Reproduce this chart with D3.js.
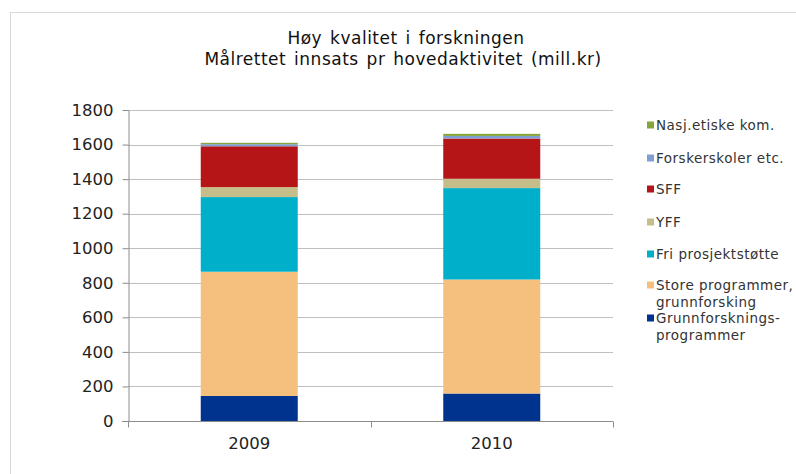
<!DOCTYPE html>
<html><head><meta charset="utf-8">
<script src="https://cdn.jsdelivr.net/npm/d3@7"></script>
<style>body{margin:0;background:#fff}svg{display:block}</style>
</head><body>
<svg id="c" width="796" height="474"></svg>
<script>
const categories = ["2009", "2010"];
const seriesNames = ["Grunnforsknings-programmer", "Store programmer, grunnforsking", "Fri prosjektstøtte", "YFF", "SFF", "Forskerskoler etc.", "Nasj.etiske kom."];
const grunnforskning = [145, 159];
const storeProgrammer = [719, 660];
const friProsjekt = [432, 529];
const yff = [58, 54];
const sff = [236, 233];
const forskerskoler = [12, 15];
const nasjEtiske = [8, 12];
const yTicks = [0, 200, 400, 600, 800, 1000, 1200, 1400, 1600, 1800];
const colors = ["#00338d", "#f5c07e", "#00b0ca", "#c5bd8a", "#b51516", "#7f9fd6", "#86a43a"];
const legendLabels = [["Nasj.etiske kom."], ["Forskerskoler etc."], ["SFF"], ["YFF"], ["Fri prosjektstøtte"], ["Store programmer,", "grunnforsking"], ["Grunnforsknings-", "programmer"]];

const values = [grunnforskning, storeProgrammer, friProsjekt, yff, sff, forskerskoler, nasjEtiske];
const rows = categories.map((c, i) => {
  const r = {cat: c};
  seriesNames.forEach((s, j) => r[s] = values[j][i]);
  return r;
});
const stack = d3.stack().keys(seriesNames)(rows);

const svg = d3.select("#c");
svg.append("rect").attr("x", 10.5).attr("y", 12.5).attr("width", 800).attr("height", 500)
  .attr("fill", "#fff").attr("stroke", "#d9d9d9");

const pLeft = 128, pRight = 613, pTop = 110, pBottom = 421;
const x = d3.scaleBand().domain(categories).range([pLeft, pRight]).paddingInner(0.6).paddingOuter(0.3);
const y = d3.scaleLinear().domain([0, 1800]).range([pBottom, pTop]);

// gridlines
svg.append("g").selectAll("line").data(yTicks.filter(t => t > 0)).join("line")
  .attr("x1", pLeft).attr("x2", pRight)
  .attr("y1", d => Math.round(y(d)) + 0.5).attr("y2", d => Math.round(y(d)) + 0.5)
  .attr("stroke", "#bfbfbf").attr("stroke-width", 1);

// bars
svg.append("g").selectAll("g").data(stack).join("g")
  .attr("fill", (d, i) => colors[i])
  .selectAll("rect").data(d => d).join("rect")
  .attr("x", d => x(d.data.cat))
  .attr("width", x.bandwidth())
  .attr("y", d => y(d[1]))
  .attr("height", d => y(d[0]) - y(d[1]));

// y axis
const yAxis = svg.append("g").attr("transform", `translate(${pLeft + 0.5},0)`)
  .call(d3.axisLeft(y).tickValues(yTicks).tickFormat(d3.format("d")).tickSize(6).tickPadding(9).tickSizeOuter(0));
yAxis.select(".domain").attr("stroke", "#8c8c8c");
yAxis.selectAll(".tick line").attr("stroke", "#8c8c8c");
yAxis.selectAll("text").attr("font-family", "DejaVu Sans").attr("font-size", 16.5).attr("fill", "#222");

// x axis
const xg = svg.append("g").attr("transform", `translate(0,${pBottom + 0.5})`);
xg.append("line").attr("x1", pLeft - 6).attr("x2", pRight).attr("stroke", "#8c8c8c");
const xTickPos = [pLeft, (pLeft + pRight) / 2, pRight];
xg.selectAll(".xt").data(xTickPos).join("line").attr("class", "xt")
  .attr("x1", d => Math.round(d) + 0.5).attr("x2", d => Math.round(d) + 0.5)
  .attr("y1", 0).attr("y2", 6).attr("stroke", "#8c8c8c");
xg.selectAll("text").data(categories).join("text")
  .attr("x", d => x(d) + x.bandwidth() / 2).attr("y", 27)
  .attr("text-anchor", "middle").attr("font-family", "DejaVu Sans").attr("font-size", 16.5)
  .attr("fill", "#222").text(d => d);

// title
const title = svg.append("text").attr("text-anchor", "middle").attr("font-family", "DejaVu Sans")
  .attr("font-size", 17).attr("letter-spacing", 0.5).attr("word-spacing", 2).attr("fill", "#111");
title.append("tspan").attr("x", 406).attr("y", 44).text("Høy kvalitet i forskningen");
title.append("tspan").attr("x", 403).attr("y", 65).text("Målrettet innsats pr hovedaktivitet (mill.kr)");

// legend
const legendY = [125, 158, 189, 222, 254, 285, 318];
const lg = svg.append("g");
legendLabels.forEach((lines, i) => {
  const ci = colors.length - 1 - i;
  lg.append("rect").attr("x", 647).attr("y", legendY[i] - 3.5).attr("width", 7).attr("height", 7).attr("fill", colors[ci]);
  const t = lg.append("text").attr("font-family", "DejaVu Sans").attr("font-size", 13.5)
    .attr("letter-spacing", 0.5).attr("fill", "#333");
  lines.forEach((l, k) => t.append("tspan").attr("x", 656).attr("y", legendY[i] + 5 + k * 17).text(l));
});
</script>
</body></html>
